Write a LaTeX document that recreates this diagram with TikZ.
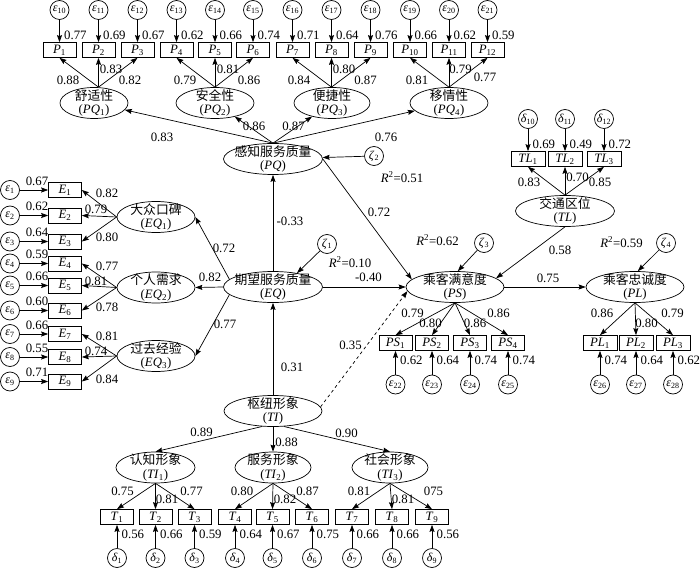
\documentclass[tikz,border=0pt]{standalone}
\usepackage{fontspec}
\setmainfont{Liberation Serif}
\newfontfamily\cjk{Noto Sans CJK SC}
\usetikzlibrary{arrows.meta,shapes.geometric}
\newcommand\iv[2]{\textit{#1}\textsubscript{#2}}
\newcommand\fnum{\fontsize{12.8}{14}\selectfont}
\tikzset{
 arr/.style={-{Stealth[length=7pt,width=5pt,inset=1pt]}, line width=0.7pt},
 obs/.style={rectangle, draw, line width=0.7pt, minimum width=33pt, minimum height=15pt, inner sep=0pt, font=\fnum},
 err/.style={circle, draw, line width=0.7pt, minimum size=19pt, inner sep=0pt, font=\fontsize{12}{12}\selectfont},
 lat/.style={ellipse, draw, line width=0.7pt, inner sep=0pt, minimum height=31pt},
 lattxt/.style={inner sep=0pt, align=center, font=\fontsize{12.8}{13.5}\selectfont},
 num/.style={inner sep=0.5pt, font=\fnum},
}
\newcommand\latent[5]{%
 \node[lat, minimum width=#4pt] (#1) at (#2,#3) {};
 \node[lattxt] (#1t) at (#2,#3) {#5};}
\begin{document}
\begin{tikzpicture}[x=1pt,y=-1pt]
\useasboundingbox (0,0) rectangle (700,569);

% ---------- top: P indicators ----------
\foreach \i/\x/\e/\val in {1/59.5/10/0.77, 2/98.5/11/0.69, 3/137.5/12/0.67, 4/176.5/13/0.62, 5/215/14/0.66, 6/253/15/0.74, 7/292.5/16/0.71, 8/331.5/17/0.64, 9/370.5/18/0.76, 10/410/19/0.66, 11/449/20/0.62, 12/487.5/21/0.59} {
  \node[obs] (P\i) at (\x,50) {\iv{P}{\i}};
  \node[err] (e\e) at (\x,10) {\iv{ε}{\e}};
  \draw[arr] (e\e) -- (P\i);
  \node[num,anchor=west] (le\e) at (\x+4,35) {\val};
}
\latent{PQ1}{94}{103}{68}{{\cjk 舒适性}\\(\iv{PQ}{1})}
\latent{PQ2}{215}{103}{78}{{\cjk 安全性}\\(\iv{PQ}{2})}
\latent{PQ3}{332}{103}{76}{{\cjk 便捷性}\\(\iv{PQ}{3})}
\latent{PQ4}{449}{103}{78}{{\cjk 移情性}\\(\iv{PQ}{4})}
\coordinate (oq1) at (P2 |- PQ1.north);
\coordinate (oq2) at (P5 |- PQ2.north);
\coordinate (oq3) at (P8 |- PQ3.north);
\coordinate (oq4) at (P11 |- PQ4.north);
\foreach \p/\g/\lx/\ly/\val in {1/1/68/80/0.88, 2/1/111/69.5/0.83, 3/1/130/80/0.82, 4/2/185/80/0.79, 5/2/228/69.5/0.81, 6/2/249/80/0.86, 7/3/299/80/0.84, 8/3/344/69.5/0.80, 9/3/365.5/80/0.87, 10/4/417/80/0.81, 11/4/460.5/69.5/0.79, 12/4/485/77/0.77} {
  \draw[arr] (oq\g) -- (P\p.south);
  \node[num] (lq\p) at (\lx,\ly) {\val};
}

% ---------- PQ ----------
\latent{PQ}{273}{159}{99}{{\cjk 感知服务质量}\\(\textit{PQ})}
\foreach \g/\lx/\ly/\val in {1/162/137/0.83, 2/254/126.5/0.86, 3/293.5/126.5/0.87, 4/386/137/0.76} {
  \draw[arr] (PQ.north) -- (PQ\g);
  \node[num] (lpq\g) at (\lx,\ly) {\val};
}
\node[err] (z2) at (374,156) {\iv{ζ}{2}};
\draw[arr] (z2) -- (PQ);
\node[num] (r51) at (402,177) {\textit{R}\textsuperscript{2}=0.51};

% ---------- EQ ----------
\latent{EQ}{273}{287}{99}{{\cjk 期望服务质量}\\(\textit{EQ})}
\draw[arr] (EQ) -- (PQ);
\node[num] (l33) at (290,221) {-0.33};
\node[err] (z1) at (327,244) {\iv{ζ}{1}};
\draw[arr] (z1) -- (EQ.30);
\node[num] (r10) at (350,262) {\textit{R}\textsuperscript{2}=0.10};

% ---------- PS ----------
\latent{PS}{455}{287}{98}{{\cjk 乘客满意度}\\(\textit{PS})}
\draw[arr] (EQ) -- (PS);
\node[num] (l40) at (368.5,277) {-0.40};
\draw[arr] (PQ.east) -- (PS.170);
\node[num] (l72b) at (379,212) {0.72};
\node[err] (z3) at (484,243) {\iv{ζ}{3}};
\draw[arr] (z3) -- (PS.80);
\node[num] (r62) at (437.5,240) {\textit{R}\textsuperscript{2}=0.62};

% ---------- TL ----------
\latent{TL}{565}{211}{99}{{\cjk 交通区位}\\(\textit{TL})}
\foreach \i/\x/\e/\val in {1/528/10/0.69, 2/565/11/0.49, 3/604/12/0.72} {
  \node[obs, minimum width=34pt] (TL\i) at (\x,159) {\iv{TL}{\i}};
  \node[err] (d\e) at (\x,119) {\iv{δ}{\e}};
  \draw[arr] (d\e) -- (TL\i);
  \node[num,anchor=west] (ld\e) at (\x+4,144.5) {\val};
}
\foreach \i/\lx/\ly/\val in {1/529/182.5/0.83, 2/577.5/177/0.70, 3/600/182.5/0.85} {
  \draw[arr] (TL.north) -- (TL\i.south);
  \node[num] (ltl\i) at (\lx,\ly) {\val};
}
\draw[arr] (TL.south) -- (PS.12);
\node[num] (l58) at (560,250) {0.58};

% ---------- PL ----------
\latent{PL}{635}{287}{98}{{\cjk 乘客忠诚度}\\(\textit{PL})}
\draw[arr] (PS) -- (PL);
\node[num] (l75) at (548,278) {0.75};
\node[err] (z4) at (666,243) {\iv{ζ}{4}};
\draw[arr] (z4) -- (PL.80);
\node[num] (r59) at (621.5,242) {\textit{R}\textsuperscript{2}=0.59};

% PS indicators
\foreach \i/\x/\e/\val in {1/395.5/22/0.62, 2/432/23/0.64, 3/470/24/0.74, 4/508/25/0.74} {
  \node[obs] (PS\i) at (\x,343) {\iv{PS}{\i}};
  \node[err] (e\e) at (\x,384.5) {\iv{ε}{\e}};
  \draw[arr] (e\e) -- (PS\i);
  \node[num,anchor=west] (le\e) at (\x+4,360) {\val};
}
\foreach \i/\lx/\ly/\val in {1/412.5/313/0.79, 2/430.5/323/0.80, 3/475/323/0.86, 4/498.5/313/0.86} {
  \draw[arr] (PS.south) -- (PS\i.north);
  \node[num] (lps\i) at (\lx,\ly) {\val};
}
% PL indicators
\foreach \i/\x/\e/\val in {1/600/26/0.74, 2/636/27/0.64, 3/673/28/0.62} {
  \node[obs, minimum width=34pt] (PL\i) at (\x,343) {\iv{PL}{\i}};
  \node[err] (e\e) at (\x,384.5) {\iv{ε}{\e}};
  \draw[arr] (e\e) -- (PL\i);
  \node[num,anchor=west] (le\e) at (\x+4,360) {\val};
}
\foreach \i/\lx/\ly/\val in {1/602/313/0.86, 2/646.5/323/0.80, 3/672.5/313/0.79} {
  \draw[arr] (PL.south) -- (PL\i.north);
  \node[num] (lpl\i) at (\lx,\ly) {\val};
}

% ---------- left: E indicators ----------
\foreach \i/\y/\val in {1/190/0.67, 2/215.5/0.62, 3/241.5/0.64, 4/263.5/0.59, 5/285.5/0.66, 6/310.5/0.60, 7/334/0.66, 8/357/0.55, 9/381.5/0.71} {
  \node[obs] (E\i) at (65,\y) {\iv{E}{\i}};
  \node[err] (ee\i) at (10,\y) {\iv{ε}{\i}};
  \draw[arr] (ee\i) -- (E\i);
  \node[num] (lee\i) at (37,\y-9) {\val};
}
\latent{EQ1}{156}{217}{78}{{\cjk 大众口碑}\\(\iv{EQ}{1})}
\latent{EQ2}{156}{287.5}{78}{{\cjk 个人需求}\\(\iv{EQ}{2})}
\latent{EQ3}{156}{356}{78}{{\cjk 过去经验}\\(\iv{EQ}{3})}
\foreach \i/\g/\lx/\ly/\val in {1/1/107/193.5/0.82, 2/1/96/209.5/0.79, 3/1/107/237.5/0.80, 4/2/107/266/0.77, 5/2/96/281/0.81, 6/2/107/307.5/0.78, 7/3/107/336/0.81, 8/3/96/351/0.74, 9/3/107/379/0.84} {
  \draw[arr] (EQ\g.west) -- (E\i.east);
  \node[num] (lle\i) at (\lx,\ly) {\val};
}
\draw[arr] (EQ.170) -- (EQ1.east);
\node[num] (l72a) at (224,248) {0.72};
\draw[arr] (EQ.west) -- (EQ2.east);
\node[num] (l82) at (210,277) {0.82};
\draw[arr] (EQ.190) -- (EQ3.east);
\node[num] (l77) at (225,324) {0.77};

% ---------- TI ----------
\latent{TI}{273}{411}{98}{{\cjk 枢纽形象}\\(\textit{TI})}
\draw[arr] (TI) -- (EQ);
\node[num] (l31) at (292,367) {0.31};
\draw[arr, dashed] (TI.5) -- (PS.185);
\node[num] (l35) at (350.5,345.5) {0.35};
\latent{TI1}{155.5}{467.5}{79}{{\cjk 认知形象}\\(\iv{TI}{1})}
\latent{TI2}{273}{467.5}{76}{{\cjk 服务形象}\\(\iv{TI}{2})}
\latent{TI3}{390}{467.5}{76}{{\cjk 社会形象}\\(\iv{TI}{3})}
\draw[arr] (TI.235) -- (TI1.north);
\node[num] (l89) at (201.5,432) {0.89};
\draw[arr] (TI) -- (TI2);
\node[num] (l88) at (286.5,442) {0.88};
\draw[arr] (TI.305) -- (TI3.north);
\node[num] (l90) at (346.5,433) {0.90};
\foreach \i/\x/\val in {1/117/0.56, 2/155.5/0.66, 3/194.5/0.59, 4/235/0.64, 5/272.5/0.67, 6/312/0.75, 7/352/0.66, 8/392/0.66, 9/432/0.56} {
  \node[obs] (T\i) at (\x,517) {\iv{T}{\i}};
  \node[err] (d\i) at (\x,558) {\iv{δ}{\i}};
  \draw[arr] (d\i) -- (T\i);
  \node[num,anchor=west] (ld\i) at (\x+4,534.5) {\val};
}
\foreach \i/\g/\lx/\ly/\val in {1/1/122.5/491.5/0.75, 2/1/167/499.5/0.81, 3/1/191.5/491.5/0.77, 4/2/242/491.5/0.80, 5/2/285/499.5/0.82, 6/2/307.5/491.5/0.87, 7/3/359/491.5/0.81, 8/3/403/499.5/0.81, 9/3/433.5/491.5/075} {
  \draw[arr] (TI\g.south) -- (T\i.north);
  \node[num] (lt\i) at (\lx,\ly) {\val};
}
\end{tikzpicture}
\end{document}
